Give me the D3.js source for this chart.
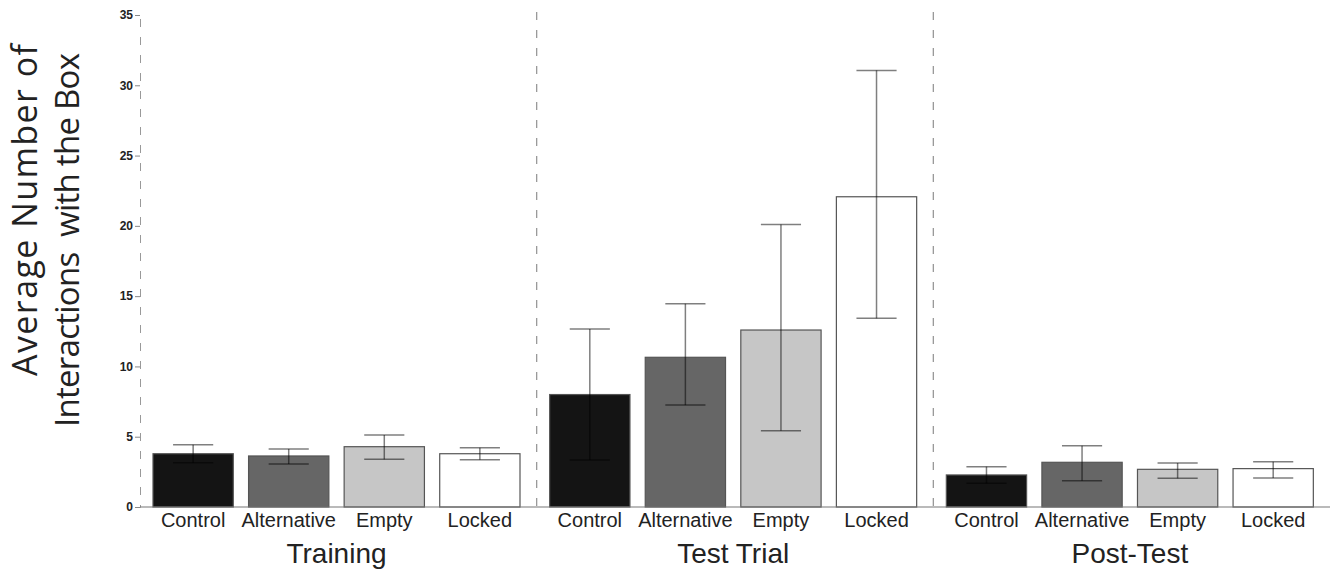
<!DOCTYPE html>
<html>
<head>
<meta charset="utf-8">
<script src="https://cdn.jsdelivr.net/npm/d3@7"></script>
<style>
  body { margin: 0; background: #fff; }
  svg { display: block; }
</style>
</head>
<body>
<svg id="chart" width="1333" height="573"></svg>
<script>
// phases and conditions
var groups = ["Training", "Test Trial", "Post-Test"];
var conditions = ["Control", "Alternative", "Empty", "Locked"];
var fills = ["#141414", "#666666", "#c6c6c6", "#ffffff"];

// means and error bar ends
var trainingMean = [3.79, 3.63, 4.29, 3.79];
var trainingUpper = [4.43, 4.13, 5.12, 4.22];
var trainingLower = [3.15, 3.06, 3.39, 3.37];

var testMean = [8.0, 10.65, 12.59, 22.07];
var testUpper = [12.66, 14.46, 20.1, 31.06];
var testLower = [3.34, 7.25, 5.43, 13.42];

var postMean = [2.28, 3.18, 2.68, 2.73];
var postUpper = [2.87, 4.36, 3.13, 3.22];
var postLower = [1.69, 1.87, 2.04, 2.06];

var yTicks = [0, 5, 10, 15, 20, 25, 30, 35];

var means = [trainingMean, testMean, postMean];
var uppers = [trainingUpper, testUpper, postUpper];
var lowers = [trainingLower, testLower, postLower];

var rows = [];
groups.forEach(function (g, gi) {
  conditions.forEach(function (c, ci) {
    rows.push({
      group: g,
      cond: c,
      fill: fills[ci],
      mean: means[gi][ci],
      hi: uppers[gi][ci],
      lo: lowers[gi][ci],
    });
  });
});

var svg = d3.select("#chart");

var y = d3.scaleLinear().domain([0, 35]).range([507, 15]);
var x0 = d3.scaleBand().domain(groups).range([140, 1330]);
var x1 = d3.scaleBand().domain(conditions).range([13, 380]).paddingInner(0.16);

var axisFont = "'Liberation Sans', Arial, sans-serif";

// y axis, dashed
var yAxis = svg
  .append("g")
  .attr("transform", "translate(140,0)")
  .call(d3.axisLeft(y).tickValues(yTicks).tickSize(5).tickSizeOuter(5));
yAxis
  .select(".domain")
  .attr("stroke", "#999")
  .attr("stroke-dasharray", "8,10");
yAxis.selectAll(".tick line").attr("stroke", "#888");
yAxis
  .selectAll(".tick text")
  .attr("x", -7)
  .style("font-family", axisFont)
  .style("font-size", "12px")
  .style("font-weight", "bold")
  .attr("fill", "#222");

// separators between phases
svg
  .append("g")
  .selectAll("line")
  .data(groups.slice(1))
  .join("line")
  .attr("x1", (d) => x0(d))
  .attr("x2", (d) => x0(d))
  .attr("y1", y(35) - 3)
  .attr("y2", y(0))
  .attr("stroke", "#999")
  .attr("stroke-width", 1.3)
  .attr("stroke-dasharray", "8,10");

// bars
svg
  .append("g")
  .selectAll("rect")
  .data(rows)
  .join("rect")
  .attr("x", (d) => x0(d.group) + x1(d.cond))
  .attr("y", (d) => y(d.mean))
  .attr("width", x1.bandwidth())
  .attr("height", (d) => y(0) - y(d.mean))
  .attr("fill", (d) => d.fill)
  .attr("stroke", "#555")
  .attr("stroke-width", 1.2);

// baseline
svg
  .append("line")
  .attr("x1", 140)
  .attr("x2", 1330)
  .attr("y1", y(0))
  .attr("y2", y(0))
  .attr("stroke", "#777")
  .attr("stroke-width", 1.2);

// error bars
var err = svg
  .append("g")
  .attr("stroke", "#000")
  .attr("stroke-opacity", 0.5)
  .attr("stroke-width", 1.5)
  .selectAll("g")
  .data(rows)
  .join("g")
  .attr("transform", (d) => "translate(" + (x0(d.group) + x1(d.cond) + x1.bandwidth() / 2) + ",0)");
var cap = x1.bandwidth() / 4;
err
  .append("line")
  .attr("y1", (d) => y(d.lo))
  .attr("y2", (d) => y(d.hi));
err
  .append("line")
  .attr("x1", -cap)
  .attr("x2", cap)
  .attr("y1", (d) => y(d.hi))
  .attr("y2", (d) => y(d.hi));
err
  .append("line")
  .attr("x1", -cap)
  .attr("x2", cap)
  .attr("y1", (d) => y(d.lo))
  .attr("y2", (d) => y(d.lo));

// condition labels
svg
  .append("g")
  .selectAll("text")
  .data(rows)
  .join("text")
  .attr("x", (d) => x0(d.group) + x1(d.cond) + x1.bandwidth() / 2)
  .attr("y", 527)
  .attr("text-anchor", "middle")
  .style("font-family", axisFont)
  .style("font-size", "20px")
  .attr("fill", "#222")
  .text((d) => d.cond);

// phase titles
svg
  .append("g")
  .selectAll("text")
  .data(groups)
  .join("text")
  .attr("x", (d) => x0(d) + x1.range()[0] + (x1.range()[1] - x1.range()[0]) / 2)
  .attr("y", 563)
  .attr("text-anchor", "middle")
  .style("font-family", axisFont)
  .style("font-size", "28px")
  .attr("fill", "#222")
  .text((d) => d);

// y title
var titleFont = "'Open Sans', 'Noto Sans', sans-serif";
svg
  .append("text")
  .attr("transform", "translate(37,210) rotate(-90)")
  .attr("text-anchor", "middle")
  .attr("textLength", 332)
  .attr("lengthAdjust", "spacing")
  .style("font-family", titleFont)
  .style("font-size", "34px")
  .attr("fill", "#222")
  .text("Average Number of");
svg
  .append("text")
  .attr("transform", "translate(79,240) rotate(-90)")
  .attr("text-anchor", "middle")
  .attr("textLength", 374)
  .attr("lengthAdjust", "spacing")
  .style("font-family", titleFont)
  .style("font-size", "33px")
  .style("white-space", "pre")
  .attr("fill", "#222")
  .text("Interactions  with the Box");
</script>
</body>
</html>
